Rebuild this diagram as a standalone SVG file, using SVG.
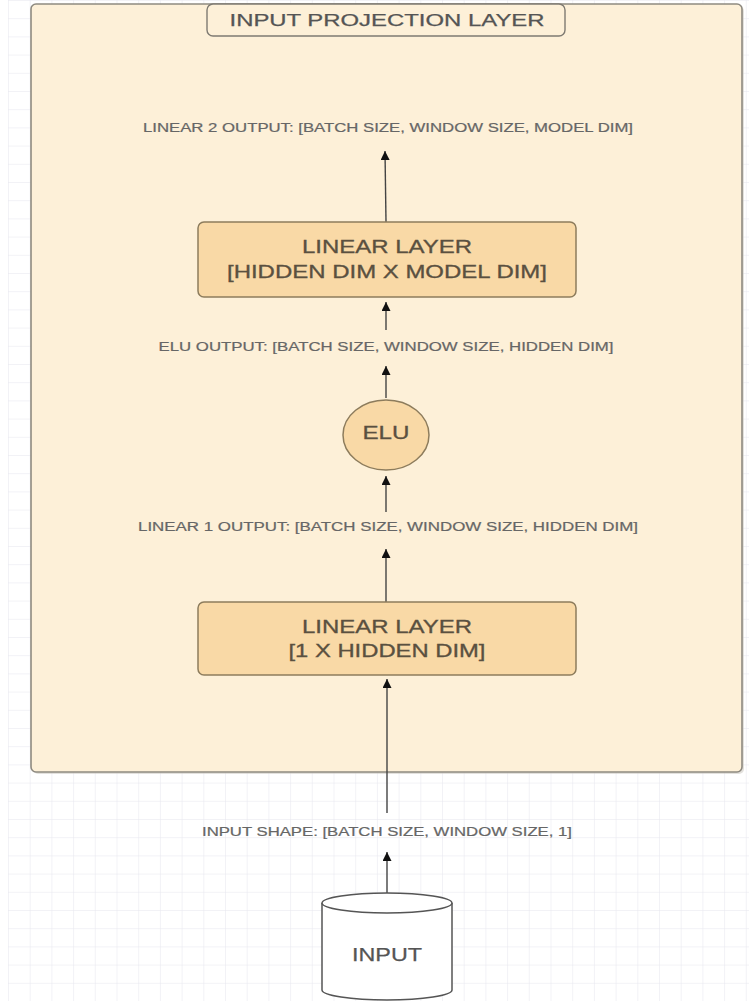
<svg xmlns="http://www.w3.org/2000/svg" width="749" height="1001" viewBox="0 0 749 1001">
  <defs>
    <pattern id="grid" x="8" y="0" width="21.7" height="18.2" patternUnits="userSpaceOnUse">
      <path d="M0 0 V18.2 M0 0 H21.7" fill="none" stroke="#e6e6ee" stroke-width="1"/>
    </pattern>
    <marker id="arr" viewBox="0 0 10 10" refX="10" refY="5" markerWidth="12" markerHeight="9" markerUnits="userSpaceOnUse" orient="auto">
      <path d="M0 0 L10 5 L0 10 z" fill="#111"/>
    </marker>
    <style>
      .lbl { font-family: "Liberation Sans", Arial, sans-serif; font-size: 12px; fill: #666; stroke: #666; stroke-width: 0.2; text-anchor: middle; dominant-baseline: central; }
      .box { fill: #f9d9a6; stroke: #8d7c5c; stroke-width: 1.5; }
      .boxtxt { font-family: "Liberation Sans", Arial, sans-serif; font-size: 18px; fill: #5a5040; stroke: #5a5040; stroke-width: 0.3; text-anchor: middle; dominant-baseline: central; }
      .conn { stroke: #444; stroke-width: 1.4; fill: none; marker-end: url(#arr); }
    </style>
  </defs>

  <rect x="0" y="0" width="749" height="1001" fill="#ffffff"/>
  <rect x="8" y="0" width="741" height="1001" fill="url(#grid)"/>

  <g id="container">
    <rect x="33" y="6" width="711" height="768" rx="5" fill="#c8c4bc" opacity="0.5"/>
    <rect x="31" y="4" width="711" height="768" rx="5" fill="#fdf0d8" stroke="#8e8a80" stroke-width="1.6"/>
  </g>

  <g id="title">
    <rect x="207" y="4" width="358" height="32" rx="6" fill="#fdf0d8" stroke="#7e7a72" stroke-width="1.4"/>
    <text x="387" y="20" font-family="Liberation Sans, Arial, sans-serif" font-size="16.5" fill="#555" stroke="#555" stroke-width="0.25" text-anchor="middle" dominant-baseline="central" textLength="315" lengthAdjust="spacingAndGlyphs">INPUT PROJECTION LAYER</text>
  </g>

  <g id="connectors">
    <line class="conn" x1="387" y1="893" x2="387" y2="852"/>
    <line class="conn" x1="387" y1="813" x2="387" y2="679"/>
    <line class="conn" x1="386" y1="602" x2="386" y2="549"/>
    <line class="conn" x1="386" y1="512" x2="386" y2="476"/>
    <line class="conn" x1="386" y1="398" x2="386" y2="366"/>
    <line class="conn" x1="386" y1="330" x2="386" y2="302"/>
    <line class="conn" x1="386" y1="222" x2="385" y2="151"/>
  </g>

  <g id="label-linear2-output">
    <text class="lbl" x="388" y="128" textLength="490" lengthAdjust="spacingAndGlyphs">LINEAR 2 OUTPUT: [BATCH SIZE, WINDOW SIZE, MODEL DIM]</text>
  </g>

  <g id="linear2">
    <rect class="box" x="198" y="222" width="378" height="75" rx="6"/>
    <text class="boxtxt" x="387" y="247" textLength="170" lengthAdjust="spacingAndGlyphs">LINEAR LAYER</text>
    <text class="boxtxt" x="387" y="272" textLength="320" lengthAdjust="spacingAndGlyphs">[HIDDEN DIM X MODEL DIM]</text>
  </g>

  <g id="label-elu-output">
    <text class="lbl" x="386" y="347" textLength="455" lengthAdjust="spacingAndGlyphs">ELU OUTPUT: [BATCH SIZE, WINDOW SIZE, HIDDEN DIM]</text>
  </g>

  <g id="elu">
    <ellipse class="box" cx="386" cy="435" rx="43" ry="35"/>
    <text class="boxtxt" x="386" y="433" textLength="47" lengthAdjust="spacingAndGlyphs">ELU</text>
  </g>

  <g id="label-linear1-output">
    <text class="lbl" x="388" y="527" textLength="500" lengthAdjust="spacingAndGlyphs">LINEAR 1 OUTPUT: [BATCH SIZE, WINDOW SIZE, HIDDEN DIM]</text>
  </g>

  <g id="linear1">
    <rect class="box" x="198" y="602" width="378" height="73" rx="6"/>
    <text class="boxtxt" x="387" y="627" textLength="170" lengthAdjust="spacingAndGlyphs">LINEAR LAYER</text>
    <text class="boxtxt" x="387" y="651" textLength="197" lengthAdjust="spacingAndGlyphs">[1 X HIDDEN DIM]</text>
  </g>

  <g id="label-input-shape">
    <text class="lbl" x="387" y="832" textLength="370" lengthAdjust="spacingAndGlyphs">INPUT SHAPE: [BATCH SIZE, WINDOW SIZE, 1]</text>
  </g>

  <g id="input">
    <path d="M322 903 V990 A65 10 0 0 0 452 990 V903" fill="#ffffff" stroke="#555" stroke-width="1.5"/>
    <ellipse cx="387" cy="903" rx="65" ry="10" fill="#ffffff" stroke="#555" stroke-width="1.5"/>
    <text x="387" y="954" font-family="Liberation Sans, Arial, sans-serif" font-size="19" fill="#555" stroke="#555" stroke-width="0.25" text-anchor="middle" dominant-baseline="central" textLength="70" lengthAdjust="spacingAndGlyphs">INPUT</text>
  </g>
</svg>
